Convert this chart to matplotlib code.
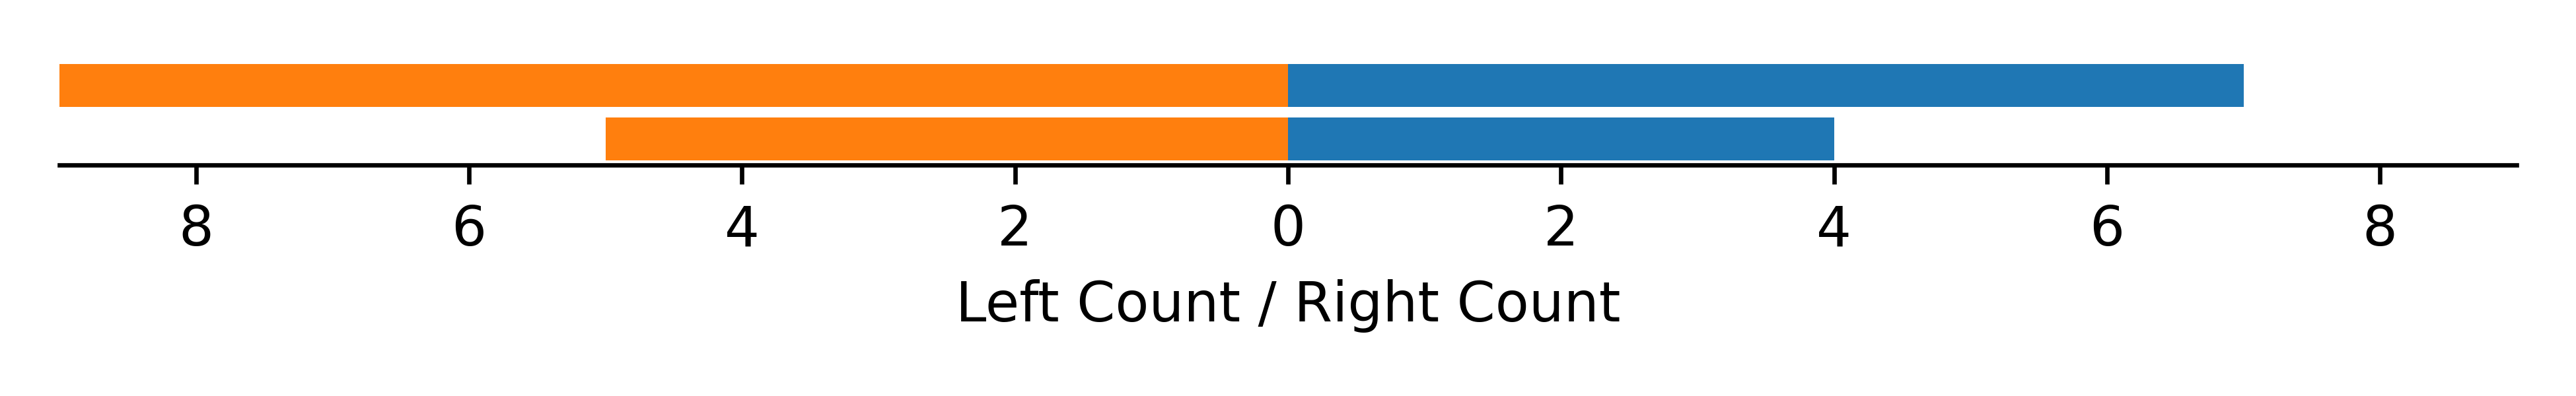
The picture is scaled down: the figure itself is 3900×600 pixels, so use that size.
import matplotlib
matplotlib.use("Agg")
import matplotlib.pyplot as plt
from matplotlib.ticker import FuncFormatter

rows = [0, 1]
left_counts = [5, 9]
right_counts = [4, 7]

fig, ax = plt.subplots(figsize=(6.5, 1), dpi=600)
fig.subplots_adjust(left=90/3900, right=3810/3900, bottom=1-250/600, top=1-90/600)

ax.barh(rows, [-v for v in left_counts], color="#ff7f0e", height=0.8)
ax.barh(rows, right_counts, color="#1f77b4", height=0.8)

ax.set_xlim(-9, 9)
ax.set_xticks([-8, -6, -4, -2, 0, 2, 4, 6, 8])
ax.xaxis.set_major_formatter(FuncFormatter(lambda x, pos: f"{abs(int(x))}"))
ax.set_yticks([])
ax.set_xlabel("Left Count / Right Count")
for side in ["left", "top", "right"]:
    ax.spines[side].set_visible(False)

fig.savefig("out.png", dpi=600)
